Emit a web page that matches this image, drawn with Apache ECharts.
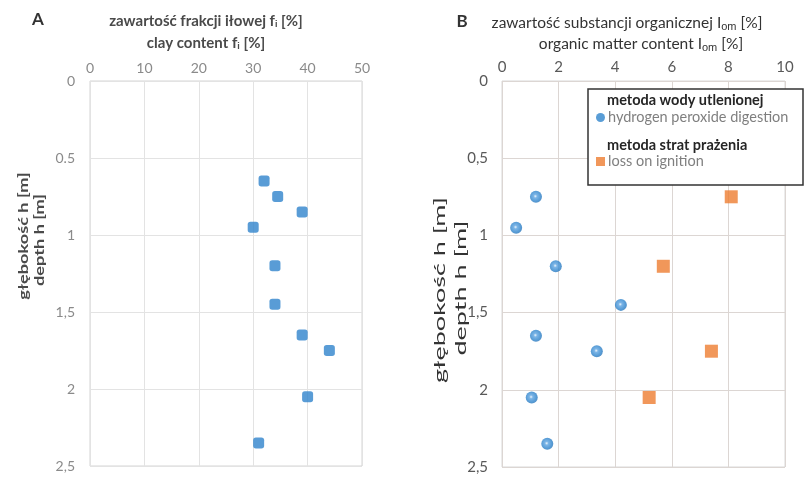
<!DOCTYPE html>
<html><head><meta charset="utf-8">
<script src="https://cdn.jsdelivr.net/npm/echarts@6/dist/echarts.min.js"></script>
<style>html,body{margin:0;padding:0;background:#fff}#c{width:806px;height:479px}</style>
</head><body><div id="c"></div>
<script>
// ---- data ----
const clayDepth = [0.65, 0.75, 0.85, 0.95, 1.2, 1.45, 1.65, 1.75, 2.05, 2.35];
const clayValue = [32, 34.5, 39, 30, 34, 34, 39, 44, 40, 31];
const h2o2Depth = [0.75, 0.95, 1.2, 1.45, 1.65, 1.75, 2.05, 2.35];
const h2o2Value = [1.2, 0.5, 1.9, 4.2, 1.2, 3.35, 1.05, 1.6];
const ignDepth = [0.75, 1.2, 1.75, 2.05];
const ignValue = [8.1, 5.7, 7.4, 5.2];
const depthTicksA = ['0', '0.5', '1', '1,5', '2', '2,5'];
const depthTicksB = ['0', '0,5', '1', '1,5', '2', '2,5'];
const seriesNames = ['hydrogen peroxide digestion', 'loss on ignition'];
const seriesHeaders = ['metoda wody utlenionej', 'metoda strat prażenia'];

const FONT = 'Lato';
const chart = echarts.init(document.getElementById('c'));
function pairs(xs, ys) { return xs.map((v, i) => [v, ys[i]]); }
function depthLabel(ticks) { return v => ticks[Math.round(v / 0.5)] ?? ''; }

const blueBall = {
  type: 'radial', x: 0.45, y: 0.45, r: 0.6,
  colorStops: [{offset: 0, color: '#e8f2fb'}, {offset: 0.25, color: '#5aa2e0'}, {offset: 0.7, color: '#2f84cc'}, {offset: 1, color: '#2672b6'}]
};

const option = {
  animation: false,
  textStyle: {fontFamily: FONT},
  grid: [
    {left: 90, top: 81, width: 272, height: 385, show: true, borderColor: '#d4d4d4', borderWidth: 1, backgroundColor: '#fff'},
    {left: 502, top: 81, width: 283, height: 386, show: true, borderColor: '#d9d9d9', borderWidth: 1, backgroundColor: '#fff'}
  ],
  xAxis: [
    {gridIndex: 0, type: 'value', position: 'top', min: 0, max: 50, interval: 10,
     axisLine: {show: false}, axisTick: {show: false},
     axisLabel: {color: '#8a8a8a', fontSize: 14, margin: 6, fontFamily: FONT},
     splitLine: {lineStyle: {color: '#e3e3e3'}}},
    {gridIndex: 1, type: 'value', position: 'top', min: 0, max: 10, interval: 2,
     axisLine: {show: false}, axisTick: {show: false},
     axisLabel: {color: '#595959', fontSize: 15, margin: 6, fontFamily: FONT},
     splitLine: {lineStyle: {color: '#dcd6d3'}}}
  ],
  yAxis: [
    {gridIndex: 0, type: 'value', inverse: true, min: 0, max: 2.5, interval: 0.5,
     axisLine: {show: false}, axisTick: {show: false},
     axisLabel: {color: '#8a8a8a', fontSize: 14, margin: 15, fontFamily: FONT, formatter: depthLabel(depthTicksA)},
     splitLine: {lineStyle: {color: '#e3e3e3'}}},
    {gridIndex: 1, type: 'value', inverse: true, min: 0, max: 2.5, interval: 0.5,
     axisLine: {show: false}, axisTick: {show: false},
     axisLabel: {color: '#595959', fontSize: 15, margin: 14, fontFamily: FONT, formatter: depthLabel(depthTicksB)},
     splitLine: {lineStyle: {color: '#dcd6d3'}}}
  ],
  legend: {
    orient: 'vertical', left: 596, top: 110, itemGap: 29, itemWidth: 9, itemHeight: 9, padding: 0, z: 30,
    textStyle: {color: '#7f7f7f', fontSize: 14.5, fontFamily: FONT, padding: [0, 0, 0, -2]},
    data: [{name: seriesNames[0], icon: 'circle', itemStyle: {color: '#2f84cc'}}, {name: seriesNames[1], icon: 'rect'}],
    selectedMode: false
  },
  series: [
    {type: 'scatter', xAxisIndex: 0, yAxisIndex: 0, data: pairs(clayValue, clayDepth),
     symbol: 'roundRect', symbolSize: 11, itemStyle: {color: '#2f83cc'}, z: 3},
    {type: 'scatter', name: seriesNames[0], xAxisIndex: 1, yAxisIndex: 1, data: pairs(h2o2Value, h2o2Depth),
     symbol: 'circle', symbolSize: 12, itemStyle: {color: blueBall}, z: 3},
    {type: 'scatter', name: seriesNames[1], xAxisIndex: 1, yAxisIndex: 1, data: pairs(ignValue, ignDepth),
     symbol: 'rect', symbolSize: 13, itemStyle: {color: '#ed7d31'}, z: 3}
  ],
  graphic: [
    {type: 'text', x: 38, y: 20, z: 20, style: {text: 'A', font: 'bold 17px ' + FONT, fill: '#333', align: 'center', verticalAlign: 'middle'}},
    {type: 'text', x: 462, y: 22, z: 20, style: {text: 'B', font: 'bold 17px ' + FONT, fill: '#333', align: 'center', verticalAlign: 'middle'}},
    // panel A titles
    {type: 'text', x: 206, y: 21, z: 20, style: {text: 'zawartość frakcji iłowej f{s|i} [%]', font: 'bold 15px ' + FONT, fill: '#4a4a4a', align: 'center', verticalAlign: 'middle',
      rich: {s: {fontSize: 9, fontWeight: 'bold', fill: '#4a4a4a', padding: [8, 0, 0, 0]}}}},
    {type: 'text', x: 206, y: 43, z: 20, style: {text: 'clay content f{s|i} [%]', font: 'bold 15px ' + FONT, fill: '#4a4a4a', align: 'center', verticalAlign: 'middle',
      rich: {s: {fontSize: 9, fontWeight: 'bold', fill: '#4a4a4a', padding: [8, 0, 0, 0]}}}},
    // panel B titles
    {type: 'text', x: 627, y: 23, z: 20, style: {text: 'zawartość substancji organicznej I{s|om} [%]', font: '15.5px ' + FONT, fill: '#333', align: 'center', verticalAlign: 'middle',
      rich: {s: {fontSize: 11, fill: '#333', padding: [8, 0, 0, 0]}}}},
    {type: 'text', x: 641, y: 44, z: 20, style: {text: 'organic matter content I{s|om} [%]', font: '15.5px ' + FONT, fill: '#333', align: 'center', verticalAlign: 'middle',
      rich: {s: {fontSize: 11, fill: '#333', padding: [8, 0, 0, 0]}}}},
    // y titles
    {type: 'text', x: 23, y: 236, rotation: Math.PI / 2, scaleX: 1.3, z: 20, style: {text: 'głębokość h [m]', font: 'bold 14px ' + FONT, fill: '#4a4a4a', align: 'center', verticalAlign: 'middle'}},
    {type: 'text', x: 39, y: 240, rotation: Math.PI / 2, scaleX: 1.3, z: 20, style: {text: 'depth h [m]', font: 'bold 14px ' + FONT, fill: '#4a4a4a', align: 'center', verticalAlign: 'middle'}},
    {type: 'text', x: 440, y: 290, rotation: Math.PI / 2, scaleX: 1.8, z: 20, style: {text: 'głębokość h [m]', font: '15px ' + FONT, fill: '#333', align: 'center', verticalAlign: 'middle'}},
    {type: 'text', x: 461, y: 288, rotation: Math.PI / 2, scaleX: 1.8, z: 20, style: {text: 'depth h [m]', font: '15px ' + FONT, fill: '#333', align: 'center', verticalAlign: 'middle'}},
    // legend box
    {type: 'rect', z: 15, shape: {x: 588, y: 89, width: 215, height: 96}, style: {fill: '#fff', stroke: '#333', lineWidth: 1.5}},
    {type: 'text', x: 607, y: 100, z: 25, style: {text: seriesHeaders[0], font: 'bold 14.5px ' + FONT, fill: '#262626', verticalAlign: 'middle'}},
    {type: 'text', x: 607, y: 145, z: 25, style: {text: seriesHeaders[1], font: 'bold 14.5px ' + FONT, fill: '#262626', verticalAlign: 'middle'}}
  ]
};
chart.setOption(option);
</script>
</body></html>
